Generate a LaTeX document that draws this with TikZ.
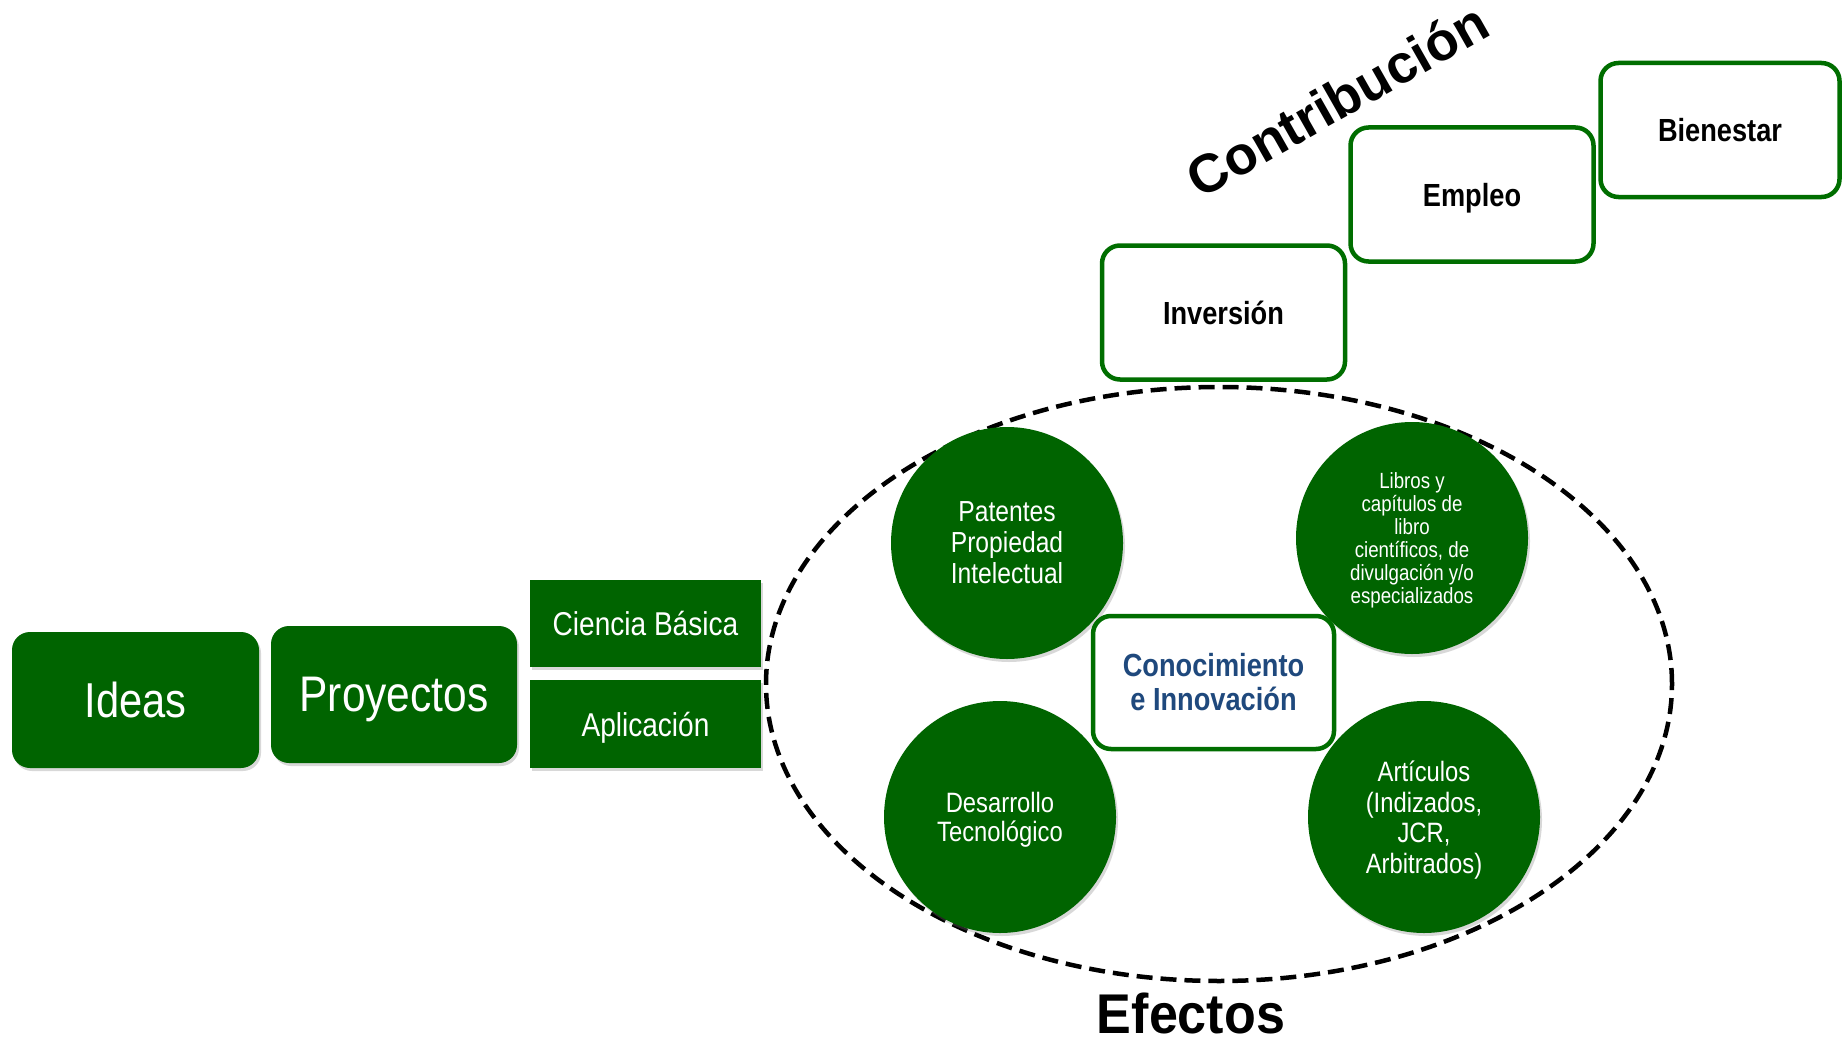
\documentclass[tikz,border=0pt]{standalone}
\usepackage{fontspec}
\setmainfont{Liberation Sans}
\newfontfamily\nfont[FakeStretch=0.85]{Liberation Sans}
\newfontfamily\efont[FakeStretch=0.93]{Liberation Sans}
\usetikzlibrary{shadows}
\definecolor{dgreen}{RGB}{0,100,0}
\definecolor{bgreen}{RGB}{0,110,0}
\definecolor{kblue}{RGB}{31,73,125}
\begin{document}
\begin{tikzpicture}[x=1pt,y=-1pt,
  shd/.style={drop shadow={opacity=0.3,shadow xshift=2pt,shadow yshift=-3pt}},
  gbox/.style={shd,fill=dgreen,draw=none,text=white,align=center,inner sep=0pt},
  gcirc/.style={gbox,circle,minimum size=232pt},
  wbox/.style={draw=bgreen,line width=4.5pt,fill=white,rounded corners=18pt,align=center,inner sep=0pt,minimum width=243pt,minimum height=134pt},
  wlabel/.style={font=\nfont\bfseries\fontsize{32}{36}\selectfont}
]
\useasboundingbox (0,0) rectangle (1845,1038);
\fill[white] (0,0) rectangle (1845,1038);

% left chain
\node[gbox,rounded corners=18pt,minimum width=247pt,minimum height=136pt,
      font=\nfont\fontsize{49}{55}\selectfont] (ideas) at (135.5,700) {Ideas};
\node[gbox,rounded corners=18pt,minimum width=246pt,minimum height=137pt,text depth=0pt,
      font=\nfont\fontsize{50}{56}\selectfont] (proy) at (394,694.5) {Proyectos};
\node[gbox,minimum width=231pt,minimum height=87pt,
      font=\nfont\fontsize{33}{38}\selectfont] (ciencia) at (645.5,623.5) {Ciencia Básica};
\node[gbox,minimum width=231pt,minimum height=88pt,text depth=0pt,
      font=\nfont\fontsize{33}{38}\selectfont] (aplic) at (645.5,724) {Aplicación};

% dashed ellipse
\draw[line width=4.5pt,dash pattern=on 16pt off 8pt] (1219,684) ellipse [x radius=453pt,y radius=297pt];

% circles
\node[gcirc,font=\nfont\fontsize{29}{31}\selectfont] (pat) at (1007,543) {Patentes\\Propiedad\\Intelectual};
\node[gcirc,font=\nfont\fontsize{22}{23}\selectfont] (lib) at (1412,538) {\rule{0pt}{20pt}Libros y\\capítulos de\\libro\\científicos, de\\divulgación y/o\\especializados};
\node[gcirc,font=\nfont\fontsize{28}{28.5}\selectfont] (des) at (1000,817) {\rule{0pt}{26pt}Desarrollo\\Tecnológico};
\node[gcirc,font=\nfont\fontsize{28}{30.6}\selectfont] (art) at (1424,817) {\rule{0pt}{27pt}Artículos\\(Indizados,\\JCR,\\Arbitrados)};

% center box
\node[wbox,minimum width=241pt,minimum height=133pt,text=kblue,
      font=\nfont\bfseries\fontsize{32}{34}\selectfont] (con) at (1213.5,682.5) {Conocimiento\\e Innovación};

% contribution steps
\node[wbox,wlabel] (inv) at (1223.5,312.5) {Inversión};
\node[wbox,wlabel,text depth=0pt] (emp) at (1472,194.5) {Empleo};
\node[wbox,wlabel,minimum width=239pt] (bien) at (1720,130) {Bienestar};

% titles
\node[font=\bfseries\fontsize{54}{58}\selectfont,rotate=29.6,inner sep=0pt] (contrib) at (1337,100) {Contribución};
\node[font=\efont\bfseries\fontsize{56}{60}\selectfont,anchor=base,inner sep=0pt] (efec) at (1191,1033) {Efectos};
\end{tikzpicture}
\end{document}
